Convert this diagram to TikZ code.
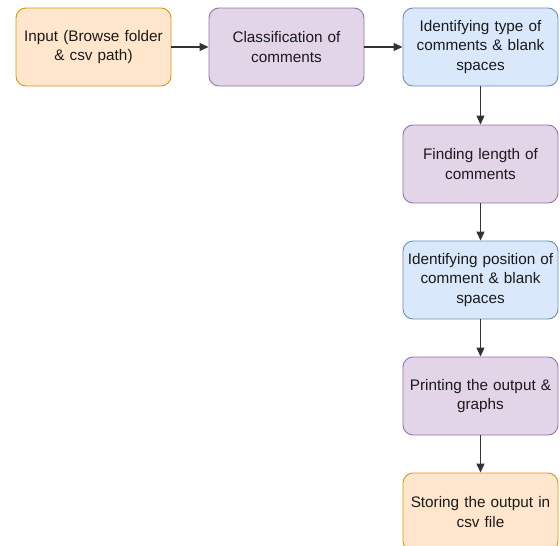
\documentclass[tikz,border=0pt]{standalone}
\usepackage{fontspec}
\setmainfont{Liberation Sans}
\usetikzlibrary{arrows.meta}
\definecolor{ofill}{HTML}{FFE6CC}\definecolor{odraw}{HTML}{D79B00}
\definecolor{pfill}{HTML}{E1D5E7}\definecolor{pdraw}{HTML}{9673A6}
\definecolor{bfill}{HTML}{DAE8FC}\definecolor{bdraw}{HTML}{6C8EBF}
\definecolor{txt}{HTML}{1A1A1A}
\tikzset{
  box/.style={rounded corners=10pt, minimum width=155pt, minimum height=78pt, line width=0.9pt,
    align=center, text width=152pt, font=\fontsize{15.3}{19.5}\selectfont, text=txt, inner sep=0pt},
  obox/.style={box, fill=ofill, draw=odraw},
  pbox/.style={box, fill=pfill, draw=pdraw},
  bbox/.style={box, fill=bfill, draw=bdraw},
  conn/.style={-{Triangle[length=9pt,width=8pt]}, line width=1.2pt, draw=black!80}
}
\begin{document}
\begin{tikzpicture}[x=1pt,y=-1pt]
\useasboundingbox (0,0) rectangle (560,546);
\clip (0,0) rectangle (560,546);
\node[obox] (n1) at (93.5,47) {Input (Browse folder\\ \& csv path)};
\node[pbox] (n2) at (286.5,47) {Classification of\\ comments};
\node[bbox] (n3) at (480.5,47) {Identifying type of\\ comments \& blank\\ spaces};
\node[pbox] (n4) at (480.5,164) {Finding length of\\ comments};
\node[bbox] (n5) at (480.5,280) {Identifying position of\\ comment \& blank\\ spaces};
\node[pbox] (n6) at (480.5,396) {Printing the output \&\\ graphs};
\node[obox] (n7) at (480.5,512) {Storing the output in\\ csv file};
\draw[conn] (n1) -- (n2);
\draw[conn] (n2) -- (n3);
\draw[conn] (n3) -- (n4);
\draw[conn] (n4) -- (n5);
\draw[conn] (n5) -- (n6);
\draw[conn] (n6) -- (n7);
\end{tikzpicture}
\end{document}
